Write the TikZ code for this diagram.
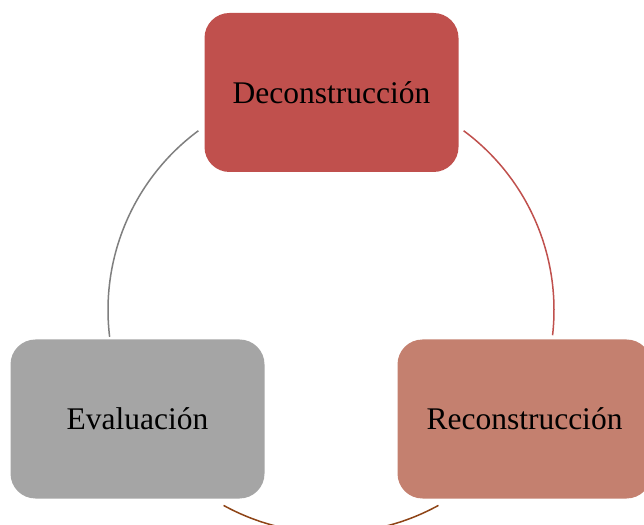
\documentclass[tikz,border=0pt]{standalone}
\usepackage{fontspec}
\setmainfont{Liberation Serif}
\definecolor{deconred}{HTML}{C0504D}
\definecolor{reconrose}{HTML}{C4806F}
\definecolor{evalgray}{HTML}{A5A5A5}
\definecolor{arcgray}{HTML}{7F7F7F}
\definecolor{arcbrown}{HTML}{8E4416}
\begin{document}
\begin{tikzpicture}[x=1pt,y=1pt,
  phase/.style={rounded corners=25pt, minimum width=254pt, minimum height=159pt,
    inner sep=0pt, font=\fontsize{31.5}{38}\selectfont, text=black},
  cyclearc/.style={line width=1.5pt}]
  \useasboundingbox (0,0) rectangle (644,524);
  \clip (0,0) rectangle (644,524);
  \fill[white] (0,0) rectangle (644,524);
  \coordinate (c) at (331,214);
  % cycle arcs between the phases
  \draw[cyclearc, deconred] (c) ++(53.5:223) arc[start angle=53.5, end angle=-6.5, radius=223];
  \draw[cyclearc, arcbrown] (c) ++(298.8:223) arc[start angle=298.8, end angle=241.2, radius=223];
  \draw[cyclearc, arcgray] (c) ++(186.9:223) arc[start angle=186.9, end angle=126.5, radius=223];
  % phases
  \node[phase, fill=deconred] (decon) at (331.5,431.5) {Deconstrucción};
  \node[phase, fill=reconrose] (recon) at (524.5,105) {Reconstrucción};
  \node[phase, fill=evalgray] (eval) at (137.5,105) {Evaluación};
\end{tikzpicture}
\end{document}
